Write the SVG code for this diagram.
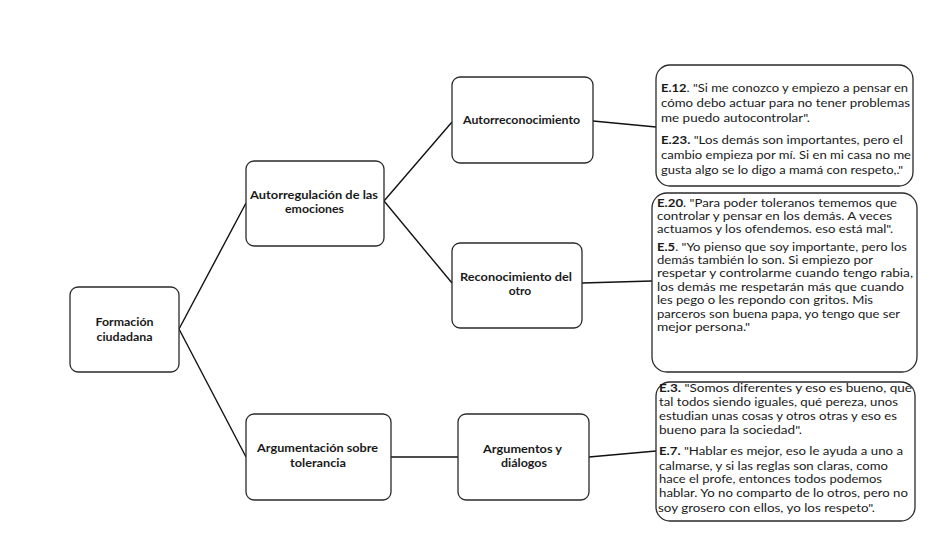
<svg xmlns="http://www.w3.org/2000/svg" width="937" height="537" viewBox="0 0 937 537">
<style>
.box{fill:#fff;stroke:#2a2a2a;stroke-width:1.3}
.q{fill:#fff;stroke:#2a2a2a;stroke-width:1.3}
.lbl{font-family:Lato,"Liberation Sans",sans-serif;font-weight:bold;font-size:12px;fill:#1a1a1a}
.t{font-family:Lato,"Liberation Sans",sans-serif;font-size:11.8px;fill:#1a1a1a}
.b{font-weight:bold}
.con line{stroke:#111;stroke-width:1.4}
</style>
<rect width="937" height="537" fill="#fff"/>
<g class="con">
<line x1="179" y1="329" x2="246" y2="203"/>
<line x1="179" y1="329" x2="246" y2="457"/>
<line x1="384" y1="201" x2="452" y2="122"/>
<line x1="384" y1="201" x2="452" y2="283"/>
<line x1="391" y1="457" x2="458" y2="457"/>
<line x1="593" y1="121" x2="656" y2="127"/>
<line x1="582" y1="283" x2="652" y2="281"/>
<line x1="589" y1="457" x2="656" y2="451"/>
</g>
<g id="formacion">
<rect class="box" x="70" y="287" width="109" height="85" rx="8"/>
<text class="lbl" x="124.5" y="326" text-anchor="middle" textLength="58" lengthAdjust="spacingAndGlyphs">Formación</text>
<text class="lbl" x="124.5" y="341" text-anchor="middle" textLength="56" lengthAdjust="spacingAndGlyphs">ciudadana</text>
</g>
<g id="autorregulacion">
<rect class="box" x="246" y="161" width="138" height="85" rx="8"/>
<text class="lbl" x="314" y="199" text-anchor="middle" textLength="128" lengthAdjust="spacingAndGlyphs">Autorregulación de las</text>
<text class="lbl" x="314.5" y="213" text-anchor="middle" textLength="59" lengthAdjust="spacingAndGlyphs">emociones</text>
</g>
<g id="argumentacion">
<rect class="box" x="246" y="414" width="145" height="86" rx="8"/>
<text class="lbl" x="317.5" y="452" text-anchor="middle" textLength="121" lengthAdjust="spacingAndGlyphs">Argumentación sobre</text>
<text class="lbl" x="318" y="467" text-anchor="middle" textLength="56" lengthAdjust="spacingAndGlyphs">tolerancia</text>
</g>
<g id="autorreconocimiento">
<rect class="box" x="452" y="77" width="141" height="86" rx="8"/>
<text class="lbl" x="521.5" y="124" text-anchor="middle" textLength="117" lengthAdjust="spacingAndGlyphs">Autorreconocimiento</text>
</g>
<g id="reconocimiento">
<rect class="box" x="452" y="243" width="130" height="85" rx="8"/>
<text class="lbl" x="516" y="281" text-anchor="middle" textLength="112" lengthAdjust="spacingAndGlyphs">Reconocimiento del</text>
<text class="lbl" x="520" y="295" text-anchor="middle">otro</text>
</g>
<g id="argumentos">
<rect class="box" x="458" y="414" width="131" height="86" rx="8"/>
<text class="lbl" x="522.5" y="453" text-anchor="middle" textLength="79" lengthAdjust="spacingAndGlyphs">Argumentos y</text>
<text class="lbl" x="524" y="467" text-anchor="middle" textLength="46" lengthAdjust="spacingAndGlyphs">diálogos</text>
</g>
<g id="quote1">
<rect class="q" x="656" y="65" width="257" height="121" rx="14"/>
<text class="t" x="661" y="92" textLength="247" lengthAdjust="spacingAndGlyphs"><tspan class="b">E.12</tspan>. "Si me conozco y empiezo a pensar en</text>
<text class="t" x="661" y="107" textLength="249" lengthAdjust="spacingAndGlyphs">cómo debo actuar para no tener problemas</text>
<text class="t" x="661" y="122" textLength="149" lengthAdjust="spacingAndGlyphs">me puedo autocontrolar".</text>
<text class="t" x="661" y="144" textLength="242" lengthAdjust="spacingAndGlyphs"><tspan class="b">E.23.</tspan> "Los demás son importantes, pero el</text>
<text class="t" x="661" y="159" textLength="250" lengthAdjust="spacingAndGlyphs">cambio empieza por mí. Si en mi casa no me</text>
<text class="t" x="661" y="174" textLength="242" lengthAdjust="spacingAndGlyphs">gusta algo se lo digo a mamá con respeto,."</text>
</g>
<g id="quote2">
<rect class="q" x="652" y="193" width="265" height="179" rx="15"/>
<text class="t" x="657" y="207" textLength="240" lengthAdjust="spacingAndGlyphs"><tspan class="b">E.20</tspan>. "Para poder toleranos tememos que</text>
<text class="t" x="657" y="220" textLength="235" lengthAdjust="spacingAndGlyphs">controlar y pensar en los demás. A veces</text>
<text class="t" x="657" y="233" textLength="236" lengthAdjust="spacingAndGlyphs">actuamos y los ofendemos. eso está mal".</text>
<text class="t" x="657" y="251" textLength="250" lengthAdjust="spacingAndGlyphs"><tspan class="b">E.5</tspan>. "Yo pienso que soy importante, pero los</text>
<text class="t" x="657" y="264" textLength="216" lengthAdjust="spacingAndGlyphs">demás también lo son. Si empiezo por</text>
<text class="t" x="657" y="277" textLength="256" lengthAdjust="spacingAndGlyphs">respetar y controlarme cuando tengo rabia,</text>
<text class="t" x="657" y="291" textLength="247" lengthAdjust="spacingAndGlyphs">los demás me respetarán más que cuando</text>
<text class="t" x="657" y="304" textLength="216" lengthAdjust="spacingAndGlyphs">les pego o les repondo con gritos. Mis</text>
<text class="t" x="657" y="318" textLength="243" lengthAdjust="spacingAndGlyphs">parceros son buena papa, yo tengo que ser</text>
<text class="t" x="657" y="331" textLength="93" lengthAdjust="spacingAndGlyphs">mejor persona."</text>
</g>
<g id="quote3">
<rect class="q" x="656" y="382" width="259" height="139" rx="14"/>
<text class="t" x="659" y="392" textLength="253" lengthAdjust="spacingAndGlyphs"><tspan class="b">E.3.</tspan> "Somos diferentes y eso es bueno, qué</text>
<text class="t" x="659" y="406" textLength="239" lengthAdjust="spacingAndGlyphs">tal todos siendo iguales, qué pereza, unos</text>
<text class="t" x="659" y="420" textLength="238" lengthAdjust="spacingAndGlyphs">estudian unas cosas y otros otras y eso es</text>
<text class="t" x="659" y="434" textLength="143" lengthAdjust="spacingAndGlyphs">bueno para la sociedad".</text>
<text class="t" x="659" y="455" textLength="244" lengthAdjust="spacingAndGlyphs"><tspan class="b">E.7.</tspan> "Hablar es mejor, eso le ayuda a uno a</text>
<text class="t" x="659" y="470" textLength="229" lengthAdjust="spacingAndGlyphs">calmarse, y si las reglas son claras, como</text>
<text class="t" x="659" y="483" textLength="223" lengthAdjust="spacingAndGlyphs">hace el profe, entonces todos podemos</text>
<text class="t" x="659" y="497" textLength="249" lengthAdjust="spacingAndGlyphs">hablar. Yo no comparto de lo otros, pero no</text>
<text class="t" x="658" y="512" textLength="217" lengthAdjust="spacingAndGlyphs">soy grosero con ellos, yo los respeto".</text>
</g>
</svg>
